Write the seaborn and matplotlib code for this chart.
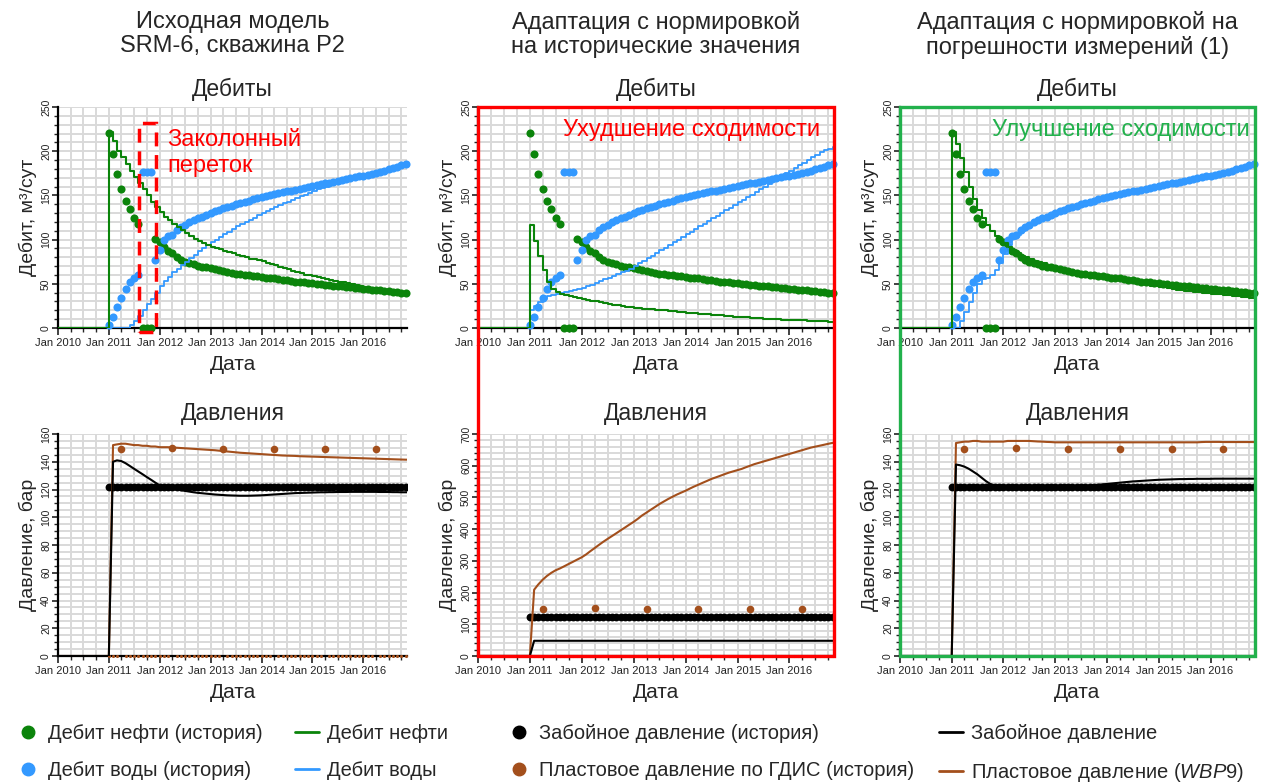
import numpy as np
import pandas as pd
import seaborn as sns
import matplotlib.pyplot as plt
import matplotlib.dates as mdates
from matplotlib.lines import Line2D
from matplotlib.patches import Rectangle
from matplotlib.ticker import MultipleLocator

# ----- Data: monthly values, Jan 2011 .. Nov 2016 (71 months) -----
OIL_HIST = [221, 197, 174, 157, 144, 135, 124, 118, 0, 0, 0, 101,
            97, 92, 87, 85, 80, 77, 75, 73.5, 72, 70.5, 69.5, 68.5,
            67.5, 66.5, 65.5, 64.5, 63.5, 62.5, 61.5, 61, 60.5, 59.5, 59, 58.5,
            58, 57, 56.5, 56, 55, 54.5, 54, 53, 52.5, 52, 51.5, 51,
            50.5, 50, 49.5, 49, 48.5, 48, 47.5, 47, 46.5, 46, 45.5, 45,
            44.5, 44, 43.5, 43, 42.5, 42, 41.5, 41, 40.5, 40, 39.8]
WATER_HIST = [3, 13, 24, 34, 44, 52, 56, 60, 177, 177, 177, 77,
              88, 99, 104, 105, 111, 114, 117, 119.5, 122, 124, 126, 128,
              130, 132, 134, 135.5, 137, 138.5, 140, 141.5, 143, 144, 145.5, 147,
              148, 149, 150.5, 151.5, 152.5, 153.5, 154.5, 155.5, 156.5, 157.5, 158.5, 159.5,
              160.5, 161.5, 162.5, 163.5, 164.5, 165.5, 166.5, 167.5, 168.5, 169.5, 170.5, 171.5,
              172.5, 173.5, 174.5, 175.5, 177, 178, 179.5, 181, 182.5, 184, 185.5]
BHP_HIST = [122] * 71  # controlled bottom-hole pressure, constant
PRES_TEST_DATES = ["2011-04-01", "2012-04-01", "2013-04-01", "2014-04-01", "2015-04-01", "2016-04-01"]
PRES_TEST_VALUES = [149, 150, 149, 149, 149, 149]

# original model SRM-6
OIL_SIM_ORIG = [222, 211, 200, 193, 186, 178, 171, 164, 157, 150, 143, 137,
                131, 126, 122, 118, 114, 110.5, 107, 104, 101, 98.5, 96, 94,
                92, 90.5, 89, 87.5, 86, 84.5, 83, 81.5, 80, 78.5, 77.5, 76.5,
                75.5, 74, 72.5, 71, 69.5, 68, 66.5, 65, 63.5, 62, 60.5, 59.5,
                58.5, 57.5, 56.5, 55.5, 54.5, 53.5, 52.5, 51.5, 50.5, 49.5, 48.5, 47.5,
                46.5, 45.5, 44.5, 44, 43.5, 43, 42.5, 42, 41.5, 41, 40.5]
WATER_SIM_ORIG = [0, 0, 0, 0, 0, 3, 8, 14, 20, 27, 33, 40,
                  47, 53, 58, 63, 67, 71, 75, 79, 83, 87, 90, 94,
                  97, 100, 103, 106, 109, 112, 115, 117.5, 120, 122.5, 125, 127.5,
                  130, 132.5, 135, 137, 139, 141, 143, 145, 147, 149, 151, 153,
                  155, 157, 158.5, 160, 161.5, 163, 164.5, 166, 167.5, 169, 170.5, 172,
                  173.5, 175, 176.5, 178, 179, 180, 181, 182, 183, 184, 185]
BHP_SIM_ORIG = [140, 141, 140.5, 139, 137, 135, 133, 131, 129, 127, 125, 123,
                122, 121.2, 120.6, 120, 119.5, 119, 118.5, 118, 117.6, 117.3, 117, 116.7,
                116.4, 116.2, 116, 115.8, 115.7, 115.6, 115.5, 115.5, 115.5, 115.6, 115.7, 115.8,
                116, 116.2, 116.4, 116.6, 116.8, 117, 117.2, 117.4, 117.5, 117.6, 117.7, 117.8,
                117.9, 118, 118, 118.1, 118.1, 118.2, 118.2, 118.2, 118.3, 118.3, 118.3, 118.3,
                118.3, 118.3, 118.3, 118.2, 118.2, 118.2, 118.1, 118.1, 118, 118, 118]
PRES_SIM_ORIG = [152, 152.5, 153, 153, 152.5, 152, 152, 151.5, 151.5, 151, 151, 150.5,
                 150.5, 150.5, 150.3, 150.1, 149.9, 149.7, 149.5, 149.3, 149.1, 148.9, 148.7, 148.5,
                 148.3, 148, 147.7, 147.4, 147.1, 146.8, 146.5, 146.3, 146.1, 145.9, 145.7, 145.5,
                 145.3, 145.1, 144.9, 144.7, 144.5, 144.4, 144.3, 144.2, 144, 143.9, 143.8, 143.7,
                 143.6, 143.5, 143.4, 143.3, 143.2, 143.1, 143, 142.9, 142.8, 142.7, 142.6, 142.5,
                 142.4, 142.3, 142.2, 142.1, 142, 141.9, 141.8, 141.7, 141.6, 141.5, 141.5]

# adaptation, normalised on historical values
OIL_SIM_HNORM = [116, 98, 82, 66, 52, 44, 41, 39, 37.5, 36, 35, 34,
                 33, 32, 31, 30, 29, 28, 27, 26, 25.5, 25, 24, 23.5,
                 23, 22.5, 22, 21.6, 21.2, 20.8, 20.4, 20, 19.5, 19, 18.5, 18,
                 17.5, 17, 16.6, 16.2, 15.8, 15.4, 15, 14.6, 14.2, 13.8, 13.4, 13,
                 12.6, 12.2, 11.9, 11.6, 11.3, 11, 10.7, 10.4, 10.1, 9.8, 9.5, 9.3,
                 9.1, 8.9, 8.7, 8.5, 8.3, 8.1, 7.9, 7.7, 7.5, 7.3, 7.1]
WATER_SIM_HNORM = [20, 25, 29, 33, 36, 37.5, 38.5, 39.5, 40.5, 41.5, 42.5, 44,
                   45, 47, 49, 51, 53, 55, 57, 59, 61, 63, 65, 67,
                   70, 73, 76, 79, 82, 85, 88, 91, 94, 97, 100, 103,
                   106, 109, 112, 115, 118, 121, 124, 127, 130, 133, 136, 139,
                   142, 145, 148, 151, 154, 157, 160, 163, 166, 169, 172, 175,
                   178, 181, 184, 187, 190, 193, 196, 199, 201, 203, 205]
BHP_SIM_HNORM = [48] * 71
PRES_SIM_HNORM = [209, 225, 240, 252, 262, 270, 276, 283, 290, 297, 304, 311,
                  320, 330, 340, 350, 360, 369, 378, 387, 396, 405, 414, 423,
                  433, 443, 452, 461, 470, 479, 487, 495, 502, 509, 515, 521,
                  528, 534, 540, 546, 552, 558, 563, 568, 573, 578, 582, 586,
                  590, 595, 600, 605, 609, 613, 617, 621, 625, 629, 633, 637,
                  641, 645, 649, 653, 657, 660, 663, 666, 669, 672, 674]

# adaptation, normalised on measurement errors (1)
OIL_SIM_ENORM = [222, 208, 192, 176, 160, 146, 134, 124, 116, 110, 104, 100,
                 96, 92, 88, 85, 82, 80, 78, 76, 74.5, 73, 71.5, 70,
                 68.5, 67, 66, 65, 64, 63, 62, 61, 60, 59, 58, 57.5,
                 56.5, 55.5, 54.5, 54, 53, 52, 51, 50.5, 49.5, 49, 48, 47.5,
                 46.5, 46, 45, 44.5, 43.5, 43, 42, 41.5, 41, 40.5, 40, 39.5,
                 39, 38.5, 38, 37.5, 37, 36.5, 36, 35.5, 35, 34.5, 34]
WATER_SIM_ENORM = [0, 0, 8, 18, 29, 40, 50, 55, 57, 60, 66, 74,
                   84, 94, 101, 105, 110, 114, 117, 120, 122.5, 124.5, 126.5, 128.5,
                   130.5, 132.5, 134.5, 136, 137.5, 139, 140.5, 142, 143.5, 145, 146.5, 148,
                   149, 150, 151.5, 152.5, 153.5, 154.5, 155.5, 156.5, 157.5, 158.5, 159.5, 160.5,
                   161.5, 162.5, 163.5, 164.5, 165.5, 166.5, 167.5, 168.5, 169.5, 170.5, 171.5, 172.5,
                   173.5, 174.5, 175.5, 176.5, 178, 179.5, 181, 182.5, 184.5, 186, 188]
BHP_SIM_ENORM = [138, 137.5, 136.5, 135, 133, 131, 128.5, 126, 124, 123, 122.5, 122.3,
                 122.2, 122.1, 122, 122, 122, 122, 122, 122, 122, 122, 122, 122,
                 122, 122, 122, 122, 122, 122.2, 122.5, 122.8, 123.1, 123.4, 123.7, 124,
                 124.3, 124.6, 124.9, 125.2, 125.5, 125.8, 126, 126.2, 126.4, 126.6, 126.8, 127,
                 127.1, 127.2, 127.3, 127.4, 127.5, 127.5, 127.6, 127.6, 127.7, 127.7, 127.7, 127.7,
                 127.8, 127.8, 127.8, 127.8, 127.8, 127.8, 127.8, 127.8, 127.8, 127.8, 127.8]
PRES_SIM_ENORM = [153.5, 154, 154.5, 154.5, 155, 155, 154.5, 154.5, 154.5, 154.5, 154.5, 154.5,
                  155, 155, 155, 155, 155, 155, 154.8, 154.6, 154.5, 154.3, 154.2, 154,
                  154, 154, 154, 154, 154, 154, 154, 154, 154, 154, 154, 154,
                  154, 154, 154, 154, 154, 154, 154, 154, 154, 154, 154, 154,
                  154, 154, 154, 154, 154, 154, 154, 154, 154, 154.2, 154.3, 154.3,
                  154.3, 154.3, 154.2, 154.2, 154.2, 154.2, 154.2, 154.2, 154.2, 154.2, 154.2]

COL_TITLES = ["Исходная модель\nSRM-6, скважина P2",
              "Адаптация с нормировкой\nна исторические значения",
              "Адаптация с нормировкой на\nпогрешности измерений (1)"]

# ----- Style -----
GREEN = "#0b840b"
BLUE = "#3399ff"
BROWN = "#a34f1c"
GRID = "#d9d9d9"
RED = "#ff0000"
OK_GREEN = "#22b14c"

sns.set_theme(style="white")
plt.rcParams["font.family"] = ["Liberation Sans", "DejaVu Sans"]
plt.rcParams["mathtext.fontset"] = "custom"
plt.rcParams["mathtext.rm"] = "Liberation Sans"
plt.rcParams["mathtext.it"] = "Liberation Sans:italic"

W, H = 1267, 782
fig = plt.figure(figsize=(W / 100, H / 100), dpi=100)

COLS = [(58, 407), (478, 834), (900, 1255)]
TOP_ROW = (107, 328)
BOT_ROW = (434, 656)
X_START = pd.Timestamp("2010-01-01")
X_END = pd.Timestamp("2016-11-10")

months = pd.date_range("2011-01-01", periods=len(OIL_HIST), freq="MS")
month_ends = months + pd.offsets.MonthEnd(0)
rate_dates = [X_START] + list(months)
pres_dates = [X_START, months[0]] + list(month_ends)
test_dates = pd.to_datetime(PRES_TEST_DATES)
zero_dates = [d for d in months if d not in set(test_dates)]


def add_ax(col, row):
    l, r = col
    t, b = row
    return fig.add_axes([l / W, 1 - b / H, (r - l) / W, (b - t) / H])


def style_axes(ax, ymax, major, minor):
    ax.set_xlim(X_START, X_END)
    ax.set_ylim(0, ymax)
    ax.xaxis.set_major_locator(mdates.YearLocator())
    ax.xaxis.set_minor_locator(mdates.MonthLocator(bymonth=[1, 4, 7, 10]))
    ax.xaxis.set_major_formatter(mdates.DateFormatter("Jan %Y"))
    ax.yaxis.set_major_locator(MultipleLocator(major))
    ax.yaxis.set_minor_locator(MultipleLocator(minor))
    ax.grid(True, which="both", color=GRID, lw=1.4)
    ax.set_axisbelow(True)
    for s in ["top", "right"]:
        ax.spines[s].set_visible(False)
    for s in ["left", "bottom"]:
        ax.spines[s].set_color("black")
        ax.spines[s].set_linewidth(1.6)
    ax.tick_params(axis="x", which="major", length=5, width=1.2, labelsize=8,
                   pad=2, colors="#222222", bottom=True)
    ax.tick_params(axis="x", which="minor", length=3, width=1, bottom=True)
    ax.tick_params(axis="y", which="major", length=4, width=1.2, labelsize=7.5,
                   labelrotation=90, pad=1, colors="#222222", left=True)
    ax.tick_params(axis="y", which="minor", length=3, width=1, left=True)
    for lab in ax.get_yticklabels():
        lab.set_va("center")
    ax.set_xlabel("Дата", fontsize=15, labelpad=5)


def plot_rates(ax, oil_sim, water_sim):
    sns.scatterplot(x=months, y=OIL_HIST, ax=ax, color=GREEN, s=34,
                    linewidth=0, clip_on=False, zorder=3)
    sns.scatterplot(x=months, y=WATER_HIST, ax=ax, color=BLUE, s=34,
                    linewidth=0, clip_on=False, zorder=3)
    sns.lineplot(x=rate_dates, y=[0] + water_sim, ax=ax, color=BLUE, lw=1.3,
                 drawstyle="steps-post", estimator=None, sort=False, zorder=4)
    sns.lineplot(x=rate_dates, y=[0] + oil_sim, ax=ax, color=GREEN, lw=1.5,
                 drawstyle="steps-post", estimator=None, sort=False, zorder=4)
    style_axes(ax, 250, 50, 10)
    ax.set_ylabel("Дебит, м³/сут", fontsize=14, labelpad=3)
    ax.set_title("Дебиты", fontsize=16.5, pad=8)


def plot_pressures(ax, bhp_sim, pres_sim, ymax, major, minor):
    sns.scatterplot(x=zero_dates, y=[0] * len(zero_dates), ax=ax, color=BROWN,
                    s=5, linewidth=0, clip_on=False, zorder=3)
    sns.scatterplot(x=test_dates, y=PRES_TEST_VALUES, ax=ax, color=BROWN, s=30,
                    linewidth=0, zorder=3)
    sns.scatterplot(x=months, y=BHP_HIST, ax=ax, color="black", s=32,
                    linewidth=0, zorder=3)
    sns.lineplot(x=pres_dates, y=[0, 0] + pres_sim, ax=ax, color=BROWN, lw=1.5,
                 estimator=None, sort=False, zorder=4)
    sns.lineplot(x=pres_dates, y=[0, 0] + bhp_sim, ax=ax, color="black", lw=1.5,
                 estimator=None, sort=False, zorder=4)
    style_axes(ax, ymax, major, minor)
    ax.set_ylabel("Давление, бар", fontsize=14, labelpad=3)
    ax.set_title("Давления", fontsize=16.5, pad=10)


panels = [
    (OIL_SIM_ORIG, WATER_SIM_ORIG, BHP_SIM_ORIG, PRES_SIM_ORIG, 160, 20, 5),
    (OIL_SIM_HNORM, WATER_SIM_HNORM, BHP_SIM_HNORM, PRES_SIM_HNORM, 700, 100, 20),
    (OIL_SIM_ENORM, WATER_SIM_ENORM, BHP_SIM_ENORM, PRES_SIM_ENORM, 160, 20, 5),
]

top_axes = []
for i, (oil, water, bhp, pres, ymax, major, minor) in enumerate(panels):
    ax_t = add_ax(COLS[i], TOP_ROW)
    plot_rates(ax_t, oil, water)
    ax_b = add_ax(COLS[i], BOT_ROW)
    plot_pressures(ax_b, bhp, pres, ymax, major, minor)
    top_axes.append(ax_t)
    l, r = COLS[i]
    fig.text((l + r) / 2 / W, 1 - 11 / H, COL_TITLES[i], ha="center", va="top",
             fontsize=17, linespacing=1.13)

# ----- Annotations -----
ax0 = top_axes[0]
x0 = mdates.date2num(pd.Timestamp("2011-08-08"))
x1 = mdates.date2num(pd.Timestamp("2011-12-05"))
ax0.add_patch(Rectangle((x0, -4), x1 - x0, 236, fill=False, ec=RED, lw=2.5,
                        ls=(0, (4, 2.5)), clip_on=False, zorder=6))
ax0.text(0.312, 0.9, "Заколонный\nпереток", transform=ax0.transAxes, color=RED,
         fontsize=17, ha="left", va="top", linespacing=1.22)
top_axes[1].text(0.96, 0.945, "Ухудшение сходимости", transform=top_axes[1].transAxes,
                 color=RED, fontsize=17, ha="right", va="top")
top_axes[2].text(0.985, 0.945, "Улучшение сходимости", transform=top_axes[2].transAxes,
                 color=OK_GREEN, fontsize=17, ha="right", va="top")

for (l, r), c in [(COLS[1], RED), (COLS[2], OK_GREEN)]:
    fig.patches.append(Rectangle((l / W, 1 - BOT_ROW[1] / H), (r - l) / W,
                                 (BOT_ROW[1] - TOP_ROW[0]) / H, fill=False, ec=c,
                                 lw=2.4, transform=fig.transFigure, zorder=10))

# ----- Legends -----
def dot(c):
    return Line2D([], [], ls="", marker="o", ms=9, color=c)


def line(c):
    return Line2D([], [], lw=2, color=c)


leg_kw = dict(frameon=False, fontsize=14.5, ncol=2, loc="upper left",
              handlelength=1.2, handletextpad=0.4, labelspacing=0.9,
              borderpad=0, borderaxespad=0)
fig.legend([dot(GREEN), dot(BLUE), line(GREEN), line(BLUE)],
           ["Дебит нефти (история)", "Дебит воды (история)", "Дебит нефти", "Дебит воды"],
           bbox_to_anchor=(16 / W, 1 - 724 / H), columnspacing=1.6, **leg_kw)
fig.legend([dot("black"), dot(BROWN), line("black"), line(BROWN)],
           ["Забойное давление (история)", "Пластовое давление по ГДИС (история)",
            "Забойное давление", "Пластовое давление ($\\mathit{WBP9}$)"],
           bbox_to_anchor=(507 / W, 1 - 724 / H), columnspacing=1.2, **leg_kw)

fig.savefig("out.png", dpi=100)
